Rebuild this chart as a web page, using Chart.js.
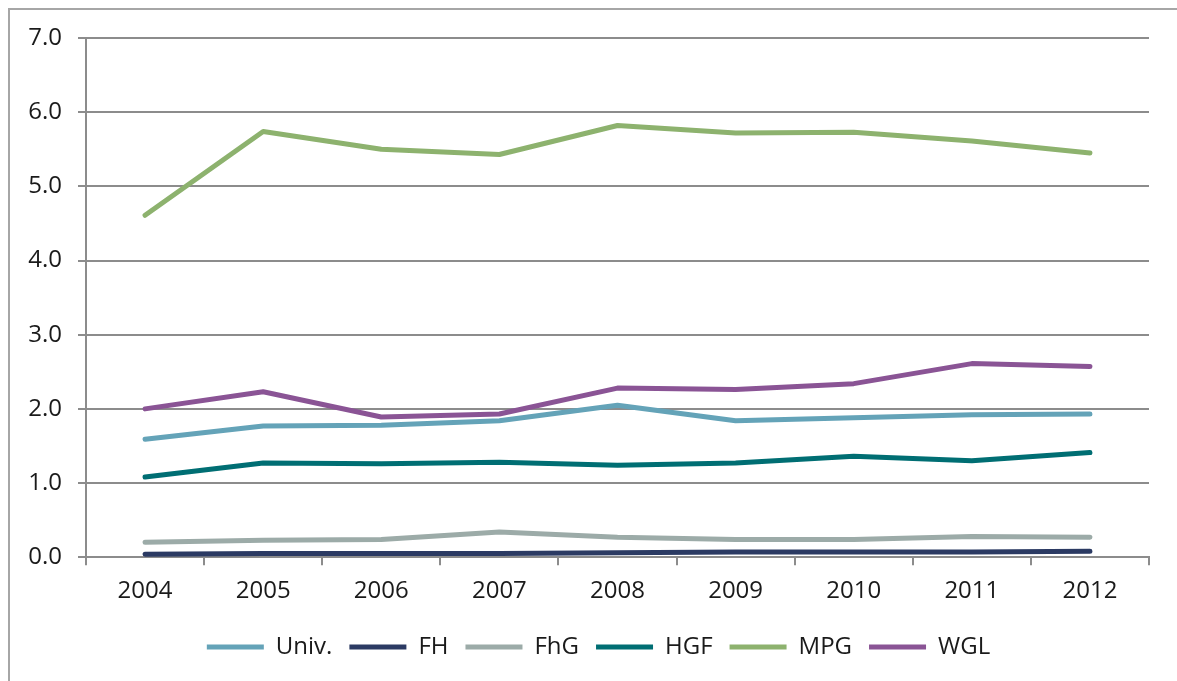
<!DOCTYPE html>
<html>
<head>
<meta charset="utf-8">
<script src="https://cdn.jsdelivr.net/npm/chart.js@4"></script>
<style>
  html, body { margin: 0; padding: 0; background: #fff; }
  #wrap { position: relative; width: 1177px; height: 681px; overflow: hidden; }
  #frame { position: absolute; left: 8px; top: 8px; width: 1300px; height: 800px;
           border-left: 2px solid #a6a6a6; border-top: 2px solid #a6a6a6; }
  canvas { position: absolute; left: 0; top: 0; }
</style>
</head>
<body>
<div id="wrap">
  <div id="frame"></div>
  <canvas id="c" width="1177" height="681"></canvas>
</div>
<script>
const years = ['2004','2005','2006','2007','2008','2009','2010','2011','2012'];
const univ = [1.59, 1.77, 1.78, 1.84, 2.05, 1.84, 1.88, 1.92, 1.93];
const fh   = [0.04, 0.05, 0.05, 0.05, 0.06, 0.07, 0.07, 0.07, 0.08];
const fhg  = [0.20, 0.23, 0.24, 0.34, 0.27, 0.24, 0.24, 0.28, 0.27];
const hgf  = [1.08, 1.27, 1.26, 1.28, 1.24, 1.27, 1.36, 1.30, 1.41];
const mpg  = [4.61, 5.74, 5.50, 5.43, 5.82, 5.72, 5.73, 5.61, 5.45];
const wgl  = [2.00, 2.23, 1.89, 1.93, 2.28, 2.26, 2.34, 2.61, 2.57];
const seriesNames = ['Univ.', 'FH', 'FhG', 'HGF', 'MPG', 'WGL'];
const seriesData = [univ, fh, fhg, hgf, mpg, wgl];
const colors = ['#64a3b8', '#2b3a63', '#9caba8', '#006e73', '#8db26e', '#8a5495'];

const FONT = '"Open Sans", "Noto Sans", sans-serif';
const gridColor = '#8c8c8c';

const legendShift = {
  id: 'legendShift',
  afterLayout(chart) {
    if (chart.legend) { chart.legend.left += 24; chart.legend.right += 24; }
  }
};

new Chart(document.getElementById('c'), {
  type: 'line',
  data: {
    labels: years,
    datasets: seriesNames.map((n, i) => ({
      label: n,
      data: seriesData[i],
      borderColor: colors[i],
      backgroundColor: colors[i],
      borderWidth: 5,
      borderCapStyle: 'round',
      borderJoinStyle: 'round',
      tension: 0,
      pointRadius: 0,
      fill: false
    }))
  },
  plugins: [legendShift],
  options: {
    responsive: false,
    animation: false,
    devicePixelRatio: 1,
    layout: { padding: { left: 0, right: 28, top: 38, bottom: 12 } },
    plugins: {
      tooltip: { enabled: false },
      legend: {
        position: 'bottom',
        labels: {
          font: { family: FONT, size: 24 },
          color: '#1a1a1a',
          boxWidth: 57,
          boxHeight: 5,
          padding: 17,
          generateLabels(chart) {
            const items = Chart.defaults.plugins.legend.labels.generateLabels(chart);
            items.forEach(it => { it.lineWidth = 0; it.fillStyle = it.strokeStyle; });
            return items;
          }
        }
      }
    },
    scales: {
      x: {
        offset: true,
        grid: { display: true, drawOnChartArea: false, offset: true, color: gridColor, lineWidth: 2, tickLength: 8 },
        border: { display: true, color: gridColor, width: 2 },
        ticks: { font: { family: FONT, size: 24 }, color: '#1a1a1a', padding: 12, maxRotation: 0 }
      },
      y: {
        min: 0, max: 7,
        afterFit(scale) { scale.width = 86; },
        grid: { color: gridColor, lineWidth: 2, tickLength: 8 },
        border: { display: true, color: gridColor, width: 2 },
        ticks: {
          stepSize: 1,
          font: { family: FONT, size: 24 },
          color: '#1a1a1a',
          padding: 16,
          callback: v => Number(v).toFixed(1)
        }
      }
    }
  }
});
</script>
</body>
</html>
